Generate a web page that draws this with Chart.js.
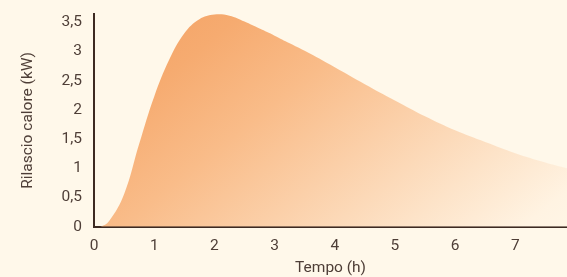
<!DOCTYPE html>
<html>
<head>
<meta charset="utf-8">
<script src="https://cdn.jsdelivr.net/npm/chart.js@4"></script>
<style>
  html, body { margin: 0; padding: 0; background: #fff8ea; }
  #wrap { width: 567px; height: 277px; }
</style>
</head>
<body>
<div id="wrap"><canvas id="chart"></canvas></div>
<script>
const hours = [0, 0.1, 0.25, 0.5, 0.75, 1, 1.25, 1.5, 1.75, 2, 2.25, 2.5, 2.75, 3, 3.25, 3.5, 4, 4.5, 5, 5.5, 6, 6.5, 7, 7.5, 7.86];
const heat = [0, 0, 0.1, 0.56, 1.42, 2.23, 2.86, 3.31, 3.55, 3.63, 3.61, 3.51, 3.39, 3.27, 3.14, 3.01, 2.73, 2.44, 2.16, 1.89, 1.65, 1.45, 1.26, 1.1, 1.0];
const xTicks = [0, 1, 2, 3, 4, 5, 6, 7];
const yTicks = [0, 0.5, 1, 1.5, 2, 2.5, 3, 3.5];

const ink = '#3d2a22';
const label = '#4e3e37';

// diagonal fade, steeper than the chart area's own diagonal
function fillGradient(context) {
  const area = context.chart.chartArea;
  if (!area) return '#f8b680';
  const dx = 135 / 217, dy = 170 / 217, len = 500;
  const g = context.chart.ctx.createLinearGradient(area.left, area.top, area.left + dx * len, area.top + dy * len);
  g.addColorStop(0, '#f3a062');
  g.addColorStop(0.186, '#f6ab70');
  g.addColorStop(0.363, '#f9bc89');
  g.addColorStop(0.716, '#fde3c8');
  g.addColorStop(0.866, '#fff3e2');
  g.addColorStop(1, '#fff8ea');
  return g;
}

new Chart(document.getElementById('chart'), {
  type: 'line',
  data: {
    datasets: [{
      data: hours.map((h, i) => ({ x: h, y: heat[i] })),
      fill: 'origin',
      backgroundColor: fillGradient,
      borderWidth: 0,
      borderColor: 'rgba(0,0,0,0)',
      pointRadius: 0,
      tension: 0.4,
    }],
  },
  options: {
    responsive: true,
    maintainAspectRatio: false,
    animation: false,
    layout: { padding: { top: 14, right: 0, left: 19, bottom: 0 } },
    plugins: { legend: { display: false }, tooltip: { enabled: false } },
    scales: {
      x: {
        type: 'linear',
        min: 0,
        max: 7.86,
        afterBuildTicks: (s) => { s.ticks = xTicks.map(v => ({ value: v })); },
        grid: { display: false, drawTicks: false },
        border: { color: ink, width: 2 },
        ticks: { color: label, padding: 10, font: { family: 'Roboto', size: 15.5 } },
        title: { display: true, text: 'Tempo (h)', color: label, padding: { top: -7, bottom: 0 }, font: { family: 'Roboto', size: 15.5 } },
      },
      y: {
        min: 0,
        max: 3.64,
        afterBuildTicks: (s) => { s.ticks = yTicks.map(v => ({ value: v })); },
        afterFit: (s) => { s.paddingTop = 0; s.paddingBottom = 0; },
        grid: { display: false, drawTicks: false },
        border: { color: ink, width: 2 },
        ticks: {
          color: label,
          padding: 12,
          font: { family: 'Roboto', size: 15.5 },
          callback: (v) => String(v).replace('.', ','),
        },
        title: { display: true, text: 'Rilascio calore (kW)', color: label, padding: { top: 0, bottom: 12 }, font: { family: 'Roboto', size: 15.5 } },
      },
    },
  },
});
</script>
</body>
</html>
